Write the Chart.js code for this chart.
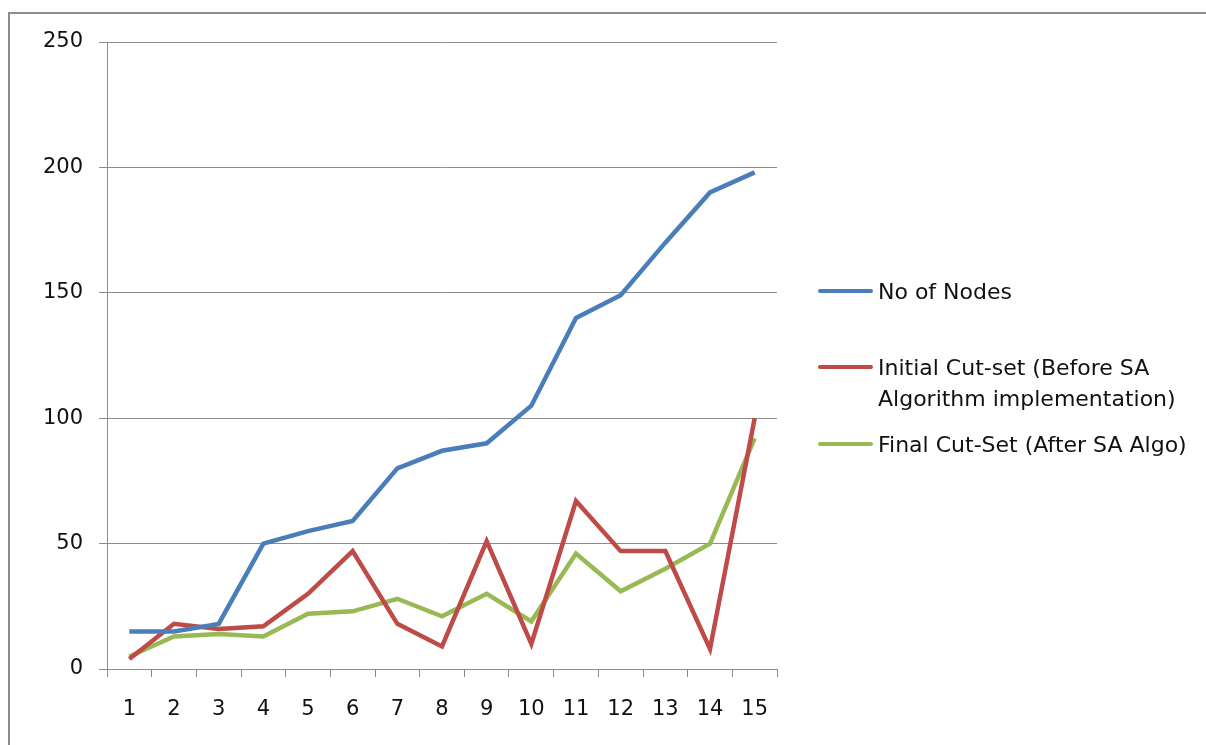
<!DOCTYPE html>
<html>
<head>
<meta charset="utf-8">
<script src="https://cdn.jsdelivr.net/npm/chart.js@4"></script>
<style>
  html, body { margin: 0; padding: 0; background: #fff; }
  body { width: 1206px; height: 745px; position: relative; overflow: hidden; font-family: "DejaVu Sans", sans-serif; }
  #frame { position: absolute; left: 8px; top: 12px; width: 1210px; height: 760px; border: 2px solid #8c8c8c; box-sizing: border-box; }
  #wrap { position: absolute; left: 0; top: 0; width: 1206px; height: 745px; }
  .leg { position: absolute; left: 818px; font-size: 22px; color: #111; line-height: 31px; }
  .leg .sw { position: absolute; left: 0; width: 55px; height: 4px; border-radius: 2px; }
  .leg .tx { position: absolute; left: 60px; white-space: nowrap; }
</style>
</head>
<body>
<div id="frame"></div>
<div id="wrap"><canvas id="grafico" width="1206" height="745"></canvas></div>
<div id="legenda"></div>
<script>
const categorias = ["1", "2", "3", "4", "5", "6", "7", "8", "9", "10", "11", "12", "13", "14", "15"];
const nos = [15, 15, 18, 50, 55, 59, 80, 87, 90, 105, 140, 149, 170, 190, 198];
const cortes_inicial = [4, 18, 16, 17, 30, 47, 18, 9, 51, 10, 67, 47, 47, 8, 100];
const cortes_final = [5, 13, 14, 13, 22, 23, 28, 21, 30, 19, 46, 31, 40, 50, 92];

const series = [
  { label: "No of Nodes", data: nos, cor: "#4a7ebb", y: 291, linhas: ["No of Nodes"] },
  { label: "Initial Cut-set (Before SA Algorithm implementation)", data: cortes_inicial, cor: "#be4b48", y: 367, linhas: ["Initial Cut-set (Before SA", "Algorithm implementation)"] },
  { label: "Final Cut-Set (After SA Algo)", data: cortes_final, cor: "#98b954", y: 444, linhas: ["Final Cut-Set (After SA Algo)"] },
];

// legenda manual (o texto quebra em duas linhas como no original)
const legenda = document.getElementById("legenda");
series.forEach((s) => {
  const d = document.createElement("div");
  d.className = "leg";
  d.style.top = (s.y - 15) + "px";
  d.innerHTML = '<div class="sw" style="top:13px;background:' + s.cor + '"></div>' +
    '<div class="tx">' + s.linhas.join("<br>") + "</div>";
  legenda.appendChild(d);
});

const ctx = document.getElementById("grafico");

new Chart(ctx, {
  type: "line",
  data: {
    labels: categorias,
    datasets: series.map((s) => ({
      label: s.label,
      data: s.data,
      borderColor: s.cor,
      backgroundColor: s.cor,
      borderWidth: 4.5,
      pointRadius: 0,
      tension: 0,
    })),
  },
  options: {
    responsive: false,
    animation: false,
    layout: {
      padding: { left: 0, top: 42, right: 429, bottom: 0 },
    },
    plugins: {
      legend: { display: false },
      tooltip: { enabled: false },
    },
    scales: {
      x: {
        offset: true,
        grid: {
          offset: true,
          drawOnChartArea: false,
          drawTicks: true,
          tickLength: 8,
          color: "#8c8c8c",
        },
        border: { color: "#8c8c8c" },
        ticks: {
          color: "#111",
          font: { family: "DejaVu Sans", size: 21 },
          padding: 20,
          maxRotation: 0,
          autoSkip: false,
        },
        afterFit: (scale) => { scale.height = 76; },
      },
      y: {
        min: 0,
        max: 250,
        grid: {
          color: "#8c8c8c",
          tickLength: 8,
        },
        border: { color: "#8c8c8c" },
        ticks: {
          stepSize: 50,
          color: "#111",
          font: { family: "DejaVu Sans", size: 21 },
          padding: 16,
        },
        afterFit: (scale) => { scale.width = 107; },
      },
    },
  },
});
</script>
</body>
</html>
